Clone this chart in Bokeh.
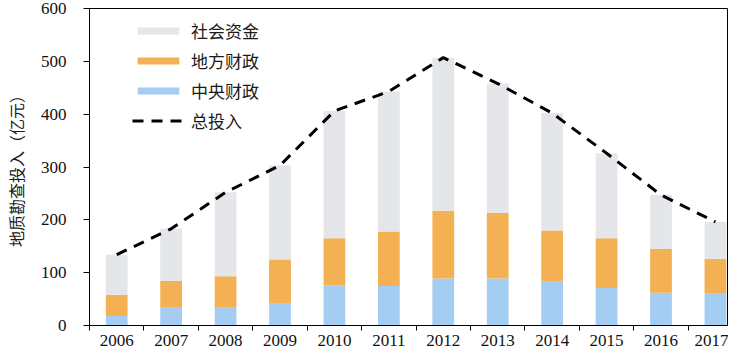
from bokeh.plotting import figure
from bokeh.models import ColumnDataSource, FixedTicker, Range1d, Legend, LegendItem
from bokeh.embed import file_html
from bokeh.resources import INLINE

years = ["2006", "2007", "2008", "2009", "2010", "2011", "2012", "2013", "2014", "2015", "2016", "2017"]
central = [18, 35, 35, 41, 76, 75, 89, 89, 83, 71, 62, 60]      # 中央财政
local = [40, 49, 58, 84, 89, 103, 128, 124, 97, 94, 83, 66]     # 地方财政
social = [76, 99, 159, 178, 241, 265, 290, 245, 222, 161, 102, 70]  # 社会资金
yticks = [0, 100, 200, 300, 400, 500, 600]

xs = list(range(len(years)))
total = [c + l + s for c, l, s in zip(central, local, social)]

src = ColumnDataSource(dict(x=xs, central=central, local=local, social=social, total=total))

BLUE = "#a5ccf1"
ORANGE = "#f3b153"
GREY = "#e4e6e9"

p = figure(width=728, height=348, x_range=Range1d(-0.5, 11.24), y_range=Range1d(0, 600),
           output_backend="svg", toolbar_location=None,
           min_border_left=79, min_border_right=0, min_border_top=8, min_border_bottom=20)

r = p.vbar_stack(["central", "local", "social"], x="x", width=0.4, color=[BLUE, ORANGE, GREY],
                 line_color=None, source=src)
ln = p.line("x", "total", source=src, line_color="black", line_width=3, line_dash="11 8")

items = [
    LegendItem(label="社会资金", renderers=[r[2]]),
    LegendItem(label="地方财政", renderers=[r[1]]),
    LegendItem(label="中央财政", renderers=[r[0]]),
    LegendItem(label="总投入", renderers=[ln]),
]
legend = Legend(items=items, location=(43, 192), glyph_width=52, glyph_height=9,
                label_standoff=7, spacing=5, padding=0, margin=0,
                border_line_color=None, background_fill_alpha=0,
                label_text_font="Noto Sans CJK SC", label_text_font_size="17px",
                label_text_color="#1a1a1a", label_height=20)
p.add_layout(legend)

p.xgrid.visible = False
p.ygrid.visible = False
p.outline_line_color = "black"
p.outline_line_width = 1

xa = p.xaxis[0]
xa.ticker = FixedTicker(ticks=xs, minor_ticks=[i - 0.5 for i in range(len(years) + 1)])
xa.major_label_overrides = {i: y for i, y in enumerate(years)}
xa.major_tick_line_color = None
xa.major_tick_out = 0
xa.minor_tick_line_color = "black"
xa.minor_tick_out = 5
xa.minor_tick_in = 0
xa.axis_line_color = "black"
xa.major_label_text_font = "Liberation Serif"
xa.major_label_text_font_size = "17px"
xa.major_label_text_color = "#111111"
xa.major_label_standoff = 4

ya = p.yaxis[0]
ya.ticker = FixedTicker(ticks=yticks)
ya.minor_tick_line_color = None
ya.major_tick_out = 6
ya.major_tick_in = 0
ya.axis_line_color = "black"
ya.major_tick_line_color = "black"
ya.major_label_text_font = "Liberation Serif"
ya.major_label_text_font_size = "17px"
ya.major_label_text_color = "#111111"
ya.major_label_standoff = 17
ya.axis_label = "地质勘查投入（亿元）"
ya.axis_label_text_font = "Noto Sans CJK SC"
ya.axis_label_text_font_size = "16px"
ya.axis_label_text_font_style = "normal"
ya.axis_label_text_color = "#1a1a1a"
ya.axis_label_standoff = 10

open("out.html", "w").write(file_html(p, INLINE))
